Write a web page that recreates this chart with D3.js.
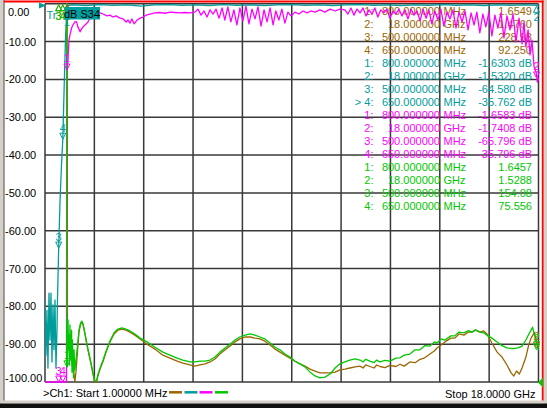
<!DOCTYPE html>
<html><head><meta charset="utf-8">
<script src="https://cdn.jsdelivr.net/npm/d3@7"></script>
<style>
html,body{margin:0;padding:0;background:#fff;overflow:hidden}
svg{display:block}
text{font-family:"Liberation Sans",Arial,sans-serif;font-size:11px}
</style>
</head><body>
<svg id="c" width="547" height="408"></svg>
<script>
// ---------------- data ----------------
const yTicks = [0,-10,-20,-30,-40,-50,-60,-70,-80,-90,-100];
const yTickLabels = ["0.00","-10.00","-20.00","-30.00","-40.00","-50.00","-60.00","-70.00","-80.00","-90.00","-100.00"];
const startFreq = 0.001, stopFreq = 18;            // GHz
const startLabel = ">Ch1: Start  1.00000 MHz";
const stopLabel = "Stop  18.0000 GHz";

const markerIds = ["1","2","3","4"];
const markerFreqs = [0.8, 18, 0.5, 0.65];           // GHz
const markerIndexText = ["1:","2:","3:","4:"];
const markerFreqText = ["800.000000","18.000000","500.000000","650.000000"];
const markerUnits = ["MHz","GHz","MHz","MHz"];
const brownReadout = ["1.6549","1.4760","228.98","92.250"];
const tealReadout = ["-1.6303 dB","-1.5320 dB","-64.580 dB","-35.762 dB"];
const magentaReadout = ["-1.6583 dB","-1.7408 dB","-65.796 dB","-35.796 dB"];
const greenReadout = ["1.6457","1.5288","154.08","75.556"];

// traces: [GHz, displayed dB]
const tealTrace = [[0.001,-78.3],[0.036,-92.9],[0.073,-81.0],[0.109,-96.3],[0.146,-76.5],[0.182,-88.9],[0.219,-76.5],[0.255,-94.7],[0.292,-79.6],[0.328,-91.5],[0.365,-78.3],[0.401,-96.3],[0.438,-86.3],[0.456,-78.3],[0.5,-64.6],[0.55,-52.0],[0.6,-43.0],[0.65,-35.8],[0.7,-22.0],[0.75,-9.0],[0.78,-4.0],[0.8,-1.6],[0.85,-0.5],[1.0,-0.3],[1.5,-0.5],[2.0,-0.2],[2.5,-0.4],[3.0,-0.3],[3.5,-0.6],[4.0,-0.3],[4.5,-0.2],[5.0,-0.4],[5.5,-0.3],[6.0,-0.5],[6.5,-0.2],[7.0,-0.4],[7.5,-0.3],[8.0,-0.5],[8.5,-0.3],[9.0,-0.2],[9.5,-0.4],[10.0,-0.3],[10.5,-0.5],[11.0,-0.3],[11.5,-0.2],[12.0,-0.4],[12.5,-0.3],[13.0,-0.5],[13.5,-0.3],[14.0,-0.4],[14.5,-0.2],[15.0,-0.4],[15.5,-0.3],[16.0,-0.5],[16.5,-0.3],[17.0,-0.4],[17.5,-0.3],[18.0,-0.4]];

const magentaTrace = [[0.001,-100],[0.785,-100],[0.792,-21.5],[0.8,-17.5],[0.84,-14.9],[0.875,-9.6],[0.91,-8.3],[0.97,-6.4],[1.02,-5.6],[1.09,-4.8],[1.15,-4.7],[1.2,-6.1],[1.28,-7.4],[1.33,-6.7],[1.39,-6.1],[1.46,-5.6],[1.57,-4.8],[1.64,-3.8],[1.75,-3.0],[1.89,-2.5],[2.01,-2.4],[2.12,-2.7],[2.26,-3.2],[2.37,-3.0],[2.48,-3.5],[2.59,-3.2],[2.74,-3.8],[2.85,-4.0],[2.96,-4.8],[3.03,-4.3],[3.1,-5.1],[3.17,-4.0],[3.25,-5.3],[3.36,-4.3],[3.47,-3.8],[3.58,-3.5],[3.69,-3.0],[3.83,-2.7],[4.01,-2.4],[4.19,-2.3],[4.38,-2.5],[4.56,-2.2],[4.74,-2.3],[4.92,-2.4],[5.11,-2.3],[5.29,-2.4],[5.47,-2.2],
[5.58,-1.4],[5.69,-3.0],[5.8,-1.9],[5.91,-3.5],[6.02,-1.6],[6.13,-2.7],[6.24,-1.4],[6.35,-3.8],[6.46,-1.1],[6.56,-4.3],[6.67,-0.8],[6.78,-4.8],[6.89,-1.6],[7.0,-5.6],[7.11,-1.1],[7.22,-4.5],[7.33,-0.6],[7.44,-5.3],[7.55,-1.4],[7.66,-4.0],[7.77,-0.8],[7.88,-5.9],[7.99,-1.6],[8.1,-4.8],[8.21,-1.1],[8.32,-5.6],[8.42,-1.9],[8.53,-4.3],[8.64,-1.4],[8.75,-5.1],[8.86,-2.2],[8.97,-3.2],[9.12,-2.2],[9.26,-2.7],[9.41,-1.9],[9.56,-2.4],[9.7,-1.9],[9.85,-2.2],[10.03,-1.6],[10.21,-2.2],[10.4,-1.4],[10.58,-1.9],[10.76,-1.4],[10.94,-1.6],
[11.05,-2.7],[11.16,-1.1],[11.27,-3.0],[11.38,-1.4],[11.49,-2.4],[11.6,-1.1],[11.71,-3.2],[11.82,-1.6],[11.93,-2.7],[12.03,-1.1],[12.14,-3.5],[12.25,-1.6],[12.36,-2.4],[12.47,-1.4],[12.58,-3.8],[12.69,-1.9],[12.8,-2.7],[12.91,-1.4],[13.02,-3.2],[13.13,-1.6],[13.24,-4.0],[13.35,-1.4],[13.46,-3.0],[13.57,-1.9],[13.68,-4.5],[13.79,-1.4],[13.9,-3.8],[14.0,-1.6],[14.11,-5.3],[14.22,-1.9],[14.33,-4.3],[14.44,-1.4],[14.55,-5.9],[14.66,-2.2],[14.77,-4.0],[14.88,-1.6],[14.99,-6.4],[15.1,-2.2],[15.21,-4.8],[15.32,-1.9],[15.43,-6.9],[15.54,-2.4],[15.65,-5.6],[15.75,-2.2],[15.86,-7.7],[15.97,-2.7],[16.08,-6.1],[16.19,-2.2],[16.3,-8.5],[16.41,-3.0],[16.52,-6.4],[16.63,-2.4],[16.74,-9.0],[16.85,-3.2],[16.96,-6.9],[17.07,-2.7],[17.18,-10.1],[17.29,-3.8],[17.4,-10.6],[17.47,-4.8],[17.54,-11.4],[17.62,-6.9],[17.69,-13.5],[17.76,-9.6],[17.84,-16.7],[17.91,-18.0],[17.96,-20.7],[18.0,-19.6]];

const greenTrace = [[0.001,5],[0.79,5],[0.795,-96.0],[0.82,-96.0],[0.84,-83.6],[0.86,-91.5],[0.875,-87.6],[0.895,-95.5],[0.91,-84.9],[0.93,-90.2],[0.95,-94.2],[0.97,-86.3],[0.985,-97.4],[1.0,-88.9],[1.02,-92.9],[1.04,-98.9],[1.06,-91.5],[1.09,-96.8],[1.13,-94.2],[1.19,-90.2],[1.24,-86.3],[1.3,-84.4],[1.34,-83.9],[1.39,-84.7],[1.46,-87.3],[1.53,-90.0],[1.6,-92.3],[1.68,-95.0],[1.75,-97.6],[1.82,-99.7],[1.88,-99.7],[1.93,-98.1],[2.01,-96.3],[2.12,-94.2],[2.23,-91.8],[2.37,-89.2],[2.52,-87.0],[2.66,-86.0],[2.81,-85.7],[2.95,-86.0],[3.1,-86.5],[3.28,-87.3],[3.47,-88.4],[3.72,-89.4],[4.01,-90.8],[4.3,-92.1],[4.56,-92.9],[4.82,-93.7],[5.03,-94.2],[5.29,-94.7],[5.47,-94.7],[5.65,-94.5],[5.84,-94.5],[6.02,-94.2],[6.2,-93.4],[6.38,-92.1],[6.57,-91.0],[6.75,-90.0],[6.93,-88.9],[7.11,-88.1],[7.3,-87.6],[7.48,-87.3],[7.66,-87.6],[7.84,-88.1],[8.02,-88.6],[8.21,-89.7],[8.39,-90.8],[8.57,-91.5],[8.75,-92.6],[8.94,-93.4],[9.12,-94.5],[9.3,-95.2],[9.48,-96.0],[9.67,-97.4],[9.85,-98.4],[10.03,-98.9],[10.21,-98.7],[10.4,-97.9],[10.58,-96.3],[10.76,-95.2],[10.94,-94.7],[11.12,-94.2],[11.31,-93.9],[11.49,-94.2],[11.6,-94.7],[11.7,-94.0],[11.85,-94.5],[12.0,-94.9],[12.1,-94.2],[12.22,-94.7],[12.4,-94.3],[12.58,-94.5],[12.8,-93.7],[12.95,-93.6],[13.1,-92.9],[13.31,-92.6],[13.5,-91.5],[13.68,-91.5],[13.85,-90.4],[14.04,-90.5],[14.2,-89.4],[14.3,-89.7],[14.45,-88.6],[14.59,-88.9],[14.8,-87.8],[14.95,-87.8],[15.1,-86.8],[15.28,-87.0],[15.45,-86.4],[15.57,-86.8],[15.7,-86.2],[15.87,-86.8],[16.0,-87.0],[16.12,-87.6],[16.3,-88.4],[16.49,-89.4],[16.67,-90.4],[16.85,-91.0],[17.07,-91.2],[17.25,-91.0],[17.4,-90.5],[17.54,-88.9],[17.65,-87.3],[17.73,-86.3],[17.78,-85.5],[17.84,-87.0],[17.89,-88.4],[17.95,-90.2],[18.0,-91.5]];

const brownTrace = [[0.001,5],[0.81,5],[0.82,-86.3],[0.84,-90.2],[0.875,-87.6],[0.91,-94.2],[0.95,-88.9],[0.985,-95.5],[1.02,-92.1],[1.06,-98.2],[1.09,-100],[1.13,-97.4],[1.19,-91.5],[1.24,-86.8],[1.3,-84.7],[1.34,-84.1],[1.39,-84.9],[1.46,-87.3],[1.53,-90.2],[1.6,-92.6],[1.68,-95.2],[1.75,-97.9],[1.82,-100],[1.88,-100],[1.93,-98.4],[2.01,-96.6],[2.12,-94.5],[2.23,-92.1],[2.37,-89.4],[2.52,-87.3],[2.66,-86.3],[2.81,-86.0],[2.95,-86.3],[3.1,-86.8],[3.28,-87.6],[3.47,-88.6],[3.72,-90.0],[4.01,-91.3],[4.3,-92.9],[4.56,-93.7],[4.82,-94.5],[5.03,-95.0],[5.29,-95.5],[5.47,-95.8],[5.65,-95.5],[5.84,-95.2],[6.02,-94.7],[6.2,-93.9],[6.38,-92.6],[6.57,-91.5],[6.75,-90.5],[6.93,-89.4],[7.11,-88.6],[7.3,-88.1],[7.48,-88.1],[7.66,-88.4],[7.84,-88.6],[8.02,-89.2],[8.21,-90.2],[8.39,-91.3],[8.57,-92.1],[8.75,-92.9],[8.94,-93.7],[9.12,-94.5],[9.3,-95.2],[9.48,-95.8],[9.67,-96.6],[9.85,-97.1],[10.03,-97.6],[10.21,-97.6],[10.4,-97.6],[10.58,-97.4],[10.76,-96.8],[10.94,-96.6],[11.12,-96.3],[11.31,-96.0],[11.49,-95.8],[11.6,-96.3],[11.7,-95.5],[11.85,-95.9],[12.0,-96.3],[12.1,-95.5],[12.22,-95.9],[12.4,-96.2],[12.58,-95.6],[12.8,-95.9],[12.95,-95.3],[13.1,-95.8],[13.31,-94.7],[13.5,-94.9],[13.68,-94.0],[13.85,-93.6],[14.04,-92.6],[14.2,-91.8],[14.3,-91.0],[14.45,-90.2],[14.59,-89.4],[14.8,-88.4],[14.95,-88.4],[15.1,-87.3],[15.28,-87.6],[15.45,-86.8],[15.57,-86.8],[15.7,-86.3],[15.87,-86.8],[16.0,-86.5],[16.12,-87.3],[16.3,-89.7],[16.49,-92.1],[16.67,-93.4],[16.85,-95.5],[17.0,-97.6],[17.1,-98.4],[17.2,-97.1],[17.3,-97.9],[17.4,-96.3],[17.54,-93.4],[17.65,-90.0],[17.73,-88.4],[17.84,-87.0],[17.95,-90.2],[18.0,-91.0]];

// ---------------- drawing ----------------
const COL = {brown:"#9c6600", teal:"#009c9c", magenta:"#ff00ff", green:"#00c800"};
const svg = d3.select("#c");
const X0 = 45, X1 = 538.5, Y0 = 3.8, Y1 = 382;
const x = d3.scaleLinear().domain([startFreq, stopFreq]).range([X0, X1]);
const y = d3.scaleLinear().domain([-100, 0]).range([Y1, Y0]);

// window frame
svg.append("rect").attr("x",0).attr("y",0).attr("width",547).attr("height",408).attr("fill","#ffffff");
svg.append("rect").attr("x",0).attr("y",0).attr("width",3.5).attr("height",408).attr("fill","#d4d0c8");
svg.append("rect").attr("x",3.5).attr("y",0).attr("width",1).attr("height",401).attr("fill","#404040");
svg.append("rect").attr("x",543.5).attr("y",0).attr("width",3.5).attr("height",408).attr("fill","#d4d0c8");
svg.append("rect").attr("x",0).attr("y",400.5).attr("width",547).attr("height",3).attr("fill","#d4d0c8");
svg.append("rect").attr("x",0).attr("y",403.5).attr("width",547).attr("height",4.5).attr("fill","#101010");
svg.append("rect").attr("x",4).attr("y",0.5).attr("width",539.5).attr("height",2).attr("fill","#ff0000");
svg.append("rect").attr("x",541.8).attr("y",0.5).attr("width",1.8).attr("height",400).attr("fill","#ff0000");

// grid
const gridFreqs = d3.range(11).map(i => startFreq + i*(stopFreq-startFreq)/10);
const g = svg.append("g").attr("stroke","#383838").attr("stroke-width",1.5);
g.selectAll("line.h").data(yTicks).join("line")
  .attr("x1",X0).attr("x2",X1).attr("y1",d=>y(d)).attr("y2",d=>y(d));
g.selectAll("line.v").data(gridFreqs).join("line").attr("class","v")
  .attr("x1",d=>x(d)).attr("x2",d=>x(d)).attr("y1",Y0).attr("y2",Y1);

// y labels
svg.selectAll("text.yl").data(yTicks).join("text").attr("class","yl")
  .attr("x",d => d===0 ? 8 : 5)
  .attr("y",d => d===0 ? y(d)+12.2 : (d===-100 ? y(d)-0.3 : y(d)+4))
  .attr("fill","#000").text((d,i)=>yTickLabels[i]);

// marker table
const tableRows = [];
[["brown",brownReadout],["teal",tealReadout],["magenta",magentaReadout],["green",greenReadout]].forEach(([c,vals],t)=>{
  vals.forEach((v,i)=>tableRows.push({c, idx:(t===1&&i===3?"> ":"")+markerIndexText[i], f:markerFreqText[i], u:markerUnits[i], v}));
});
const tr = svg.append("g");
tableRows.forEach((r,k)=>{
  const by = 14.7 + 13*k;
  tr.append("text").attr("x",373.5).attr("y",by).attr("text-anchor","end").attr("fill",COL[r.c]).text(r.idx);
  tr.append("text").attr("x",440).attr("y",by).attr("text-anchor","end").attr("fill",COL[r.c]).text(r.f);
  tr.append("text").attr("x",443.5).attr("y",by).attr("fill",COL[r.c]).text(r.u);
  tr.append("text").attr("x",532).attr("y",by).attr("text-anchor","end").attr("fill",COL[r.c]).text(r.v);
});

// traces
svg.append("clipPath").attr("id","pc").append("rect")
  .attr("x",X0).attr("y",Y0-0.5).attr("width",X1-X0+1).attr("height",Y1-Y0+1.8);
const line = d3.line().x(d=>x(d[0])).y(d=>y(d[1]));
const traces = [["brown",brownTrace],["teal",tealTrace],["magenta",magentaTrace],["green",greenTrace]];
const tg = svg.append("g").attr("clip-path","url(#pc)");
traces.forEach(([c,data])=>{
  tg.append("path").datum(data).attr("d",line).attr("fill","none")
    .attr("stroke",COL[c]).attr("stroke-width",1.3).attr("stroke-linejoin","round");
});

// markers
function valueAt(data,f){
  const fs = data.map(d=>d[0]);
  const i = d3.bisectLeft(fs,f);
  if(i<=0) return data[0][1];
  if(i>=data.length) return data[data.length-1][1];
  if(fs[i]===f) return data[i][1];
  const a=data[i-1], b=data[i], t=(f-a[0])/(b[0]-a[0]);
  return a[1]+t*(b[1]-a[1]);
}
const mg = svg.append("g");
traces.forEach(([c,data])=>{
  markerFreqs.forEach((f,i)=>{
    const mx = Math.min(x(f), X1-2);
    let my = y(Math.max(-100, Math.min(0, valueAt(data,f))));
    if(my < 20){
      mg.append("path").attr("d",`M${mx},${my+1}L${mx-3},${my+7}L${mx+3},${my+7}Z`)
        .attr("fill","none").attr("stroke",COL[c]).attr("stroke-width",1);
      mg.append("text").attr("x",mx).attr("y",my+16).attr("text-anchor","middle")
        .attr("font-size","10px").attr("fill",COL[c]).text(markerIds[i]);
    } else {
      mg.append("path").attr("d",`M${mx},${my}L${mx-3},${my-6}L${mx+3},${my-6}Z`)
        .attr("fill","none").attr("stroke",COL[c]).attr("stroke-width",1);
      mg.append("text").attr("x",mx).attr("y",my-7.5).attr("text-anchor","middle")
        .attr("font-size","10px").attr("fill",COL[c]).text(markerIds[i]);
    }
  });
});

// reference indicators
svg.append("path").attr("d","M39,2.5L46,5.5L39,8.5Z").attr("fill",COL.teal);
svg.append("path").attr("d",`M${X1-0.5},${Y1+0.5}L543,${Y1-4.5}L543,${Y1+5.5}Z`).attr("fill",COL.green);

// active trace label
svg.append("text").attr("x",46.5).attr("y",18.5).attr("fill",COL.teal).text("Tr");
svg.append("rect").attr("x",65).attr("y",7).attr("width",35).attr("height",12.5).attr("fill","#00a0a0");
svg.append("text").attr("x",64).attr("y",17.5).attr("fill","#000").text("dB S34");

// bottom status
svg.append("text").attr("x",43).attr("y",397).attr("fill","#000").text(startLabel);
svg.append("text").attr("x",535.5).attr("y",397.5).attr("text-anchor","end").attr("fill","#000").text(stopLabel);
const legendX = [169, 184.5, 199.5, 215];
["brown","teal","magenta","green"].forEach((c,i)=>{
  svg.append("line").attr("x1",legendX[i]).attr("x2",legendX[i]+13).attr("y1",392.3).attr("y2",392.3)
    .attr("stroke",COL[c]).attr("stroke-width",2.5);
});
</script>
</body></html>
